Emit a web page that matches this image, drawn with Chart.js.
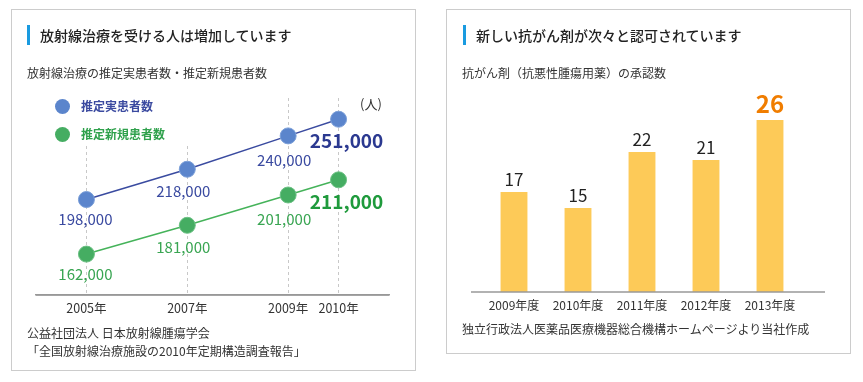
<!DOCTYPE html>
<html lang="ja">
<head>
<meta charset="utf-8">
<script src="https://cdn.jsdelivr.net/npm/chart.js@4"></script>
<style>
  body { margin: 0; width: 863px; height: 382px; position: relative; background: #fff;
         font-family: "Noto Sans CJK JP", "Noto Sans", sans-serif; color: #333; overflow: hidden; }
  .panel { position: absolute; border: 1px solid #cccccc; box-sizing: border-box; }
  .title { position: absolute; font-size: 14px; font-weight: 500; line-height: 20px; color: #222; white-space: nowrap; }
  .title::before { content: ""; position: absolute; left: -13px; top: 0; width: 3px; height: 20px; background: #1a9be0; }
  .sub, .note { position: absolute; font-size: 12px; line-height: 16px; white-space: nowrap; color: #333; }
  canvas { position: absolute; top: 0; }
  .legend { position: absolute; left: 55px; top: 95px; width: 140px; height: 50px; background: #fff; }
  .legend div { position: absolute; left: 0; font-size: 12px; font-weight: bold; line-height: 16px; white-space: nowrap; }
  .legend span { display: inline-block; width: 15px; height: 15px; border-radius: 50%; vertical-align: -3px; margin-right: 11px; }
  .unit { position: absolute; left: 360px; top: 94px; font-size: 13px; }
</style>
</head>
<body>
<div class="panel" style="left:11px;top:9px;width:405px;height:362px"></div>
<div class="panel" style="left:446px;top:9px;width:405px;height:345px"></div>

<div style="position:absolute;left:0;top:0;width:430px;height:382px">
  <canvas id="lineChart"></canvas>
</div>
<div style="position:absolute;left:440px;top:0;width:423px;height:382px">
  <canvas id="barChart"></canvas>
</div>

<div class="title" style="left:40px;top:25px">放射線治療を受ける人は増加しています</div>
<div class="sub" style="left:27px;top:65px">放射線治療の推定実患者数・推定新規患者数</div>
<div class="legend">
  <div style="top:3px;color:#3b4aa0"><span style="background:#5b85cc"></span>推定実患者数</div>
  <div style="top:31px;color:#2fa14c"><span style="background:#45ad62"></span>推定新規患者数</div>
</div>
<div class="unit">(人)</div>
<div class="note" style="left:27px;top:325px">公益社団法人 日本放射線腫瘍学会</div>
<div class="note" style="left:27px;top:343px">「全国放射線治療施設の2010年定期構造調査報告」</div>

<div class="title" style="left:476px;top:25px">新しい抗がん剤が次々と認可されています</div>
<div class="sub" style="left:462px;top:65px">抗がん剤（抗悪性腫瘍用薬）の承認数</div>
<div class="note" style="left:462px;top:321px">独立行政法人医薬品医療機器総合機構ホームページより当社作成</div>

<script>
// left chart data
const years = [2005, 2007, 2009, 2010];
const actualPatients = [198000, 218000, 240000, 251000];
const newPatients = [162000, 181000, 201000, 211000];

// right chart data
const fiscalYears = ['2009年度', '2010年度', '2011年度', '2012年度', '2013年度'];
const approvals = [17, 15, 22, 21, 26];

Chart.defaults.font.family = '"Noto Sans CJK JP", "Noto Sans", sans-serif';
Chart.defaults.color = '#333';

const pointLabels = {
    id: 'pointLabels',
    afterDatasetsDraw(chart) {
        const ctx = chart.ctx;
        chart.data.datasets.forEach((ds, i) => {
            const meta = chart.getDatasetMeta(i);
            meta.data.forEach((pt, j) => {
                const last = j === meta.data.length - 1;
                ctx.save();
                ctx.fillStyle = last ? ds.bigColor : ds.labelColor;
                ctx.font = (last ? 'bold 19px ' : '15px ') + Chart.defaults.font.family;
                ctx.textAlign = 'center';
                ctx.textBaseline = 'middle';
                const dx = last ? 8 : (j === 0 ? -1 : -4);
                const dy = last ? 22 : 20 + j * 2;
                ctx.fillText(ds.data[j].y.toLocaleString('en-US'), pt.x + dx, pt.y + dy);
                ctx.restore();
            });
        });
    }
};

new Chart(document.getElementById('lineChart'), {
    type: 'line',
    data: {
        datasets: [{
            data: years.map((y, i) => ({ x: y, y: actualPatients[i] })),
            borderColor: '#3a4ba0',
            borderWidth: 1.5,
            pointRadius: 8,
            pointBackgroundColor: '#5b85cc',
            pointBorderColor: '#7b9fd8',
            pointBorderWidth: 1,
            labelColor: '#3a4aa0',
            bigColor: '#2b3990'
        }, {
            data: years.map((y, i) => ({ x: y, y: newPatients[i] })),
            borderColor: '#45b35a',
            borderWidth: 1.5,
            pointRadius: 8,
            pointBackgroundColor: '#45ad62',
            pointBorderColor: '#6cc084',
            pointBorderWidth: 1,
            labelColor: '#39a552',
            bigColor: '#1f9a3c'
        }]
    },
    options: {
        responsive: true,
        maintainAspectRatio: false,
        animation: false,
        layout: { padding: { left: 36, right: 41, top: 98, bottom: 47 } },
        plugins: { legend: { display: false }, tooltip: { enabled: false } },
        scales: {
            x: {
                type: 'linear',
                min: 2004,
                max: 2011,
                afterBuildTicks: (scale) => { scale.ticks = years.map(v => ({ value: v })); },
                afterFit: (scale) => { scale.height = 40; },
                ticks: { callback: (v) => v + '年', font: { size: 12.5 }, color: '#333', padding: 6 },
                grid: { color: '#c8c8c8', drawTicks: false },
                border: { display: true, color: '#999', width: 1.5, dash: [3, 3] }
            },
            y: {
                display: false,
                min: 135000,
                max: 265000
            }
        }
    },
    plugins: [pointLabels, {
        id: 'baseLine',
        afterDraw(chart) {
            const ctx = chart.ctx, a = chart.chartArea;
            ctx.save();
            ctx.strokeStyle = '#999';
            ctx.lineWidth = 1.5;
            ctx.beginPath();
            ctx.moveTo(a.left, a.bottom);
            ctx.lineTo(a.right, a.bottom);
            ctx.stroke();
            ctx.restore();
        }
    }]
});

new Chart(document.getElementById('barChart'), {
    type: 'bar',
    data: {
        labels: fiscalYears,
        datasets: [{
            data: approvals,
            backgroundColor: '#fdca58',
            barPercentage: 0.84,
            categoryPercentage: 0.5
        }]
    },
    options: {
        responsive: true,
        maintainAspectRatio: false,
        animation: false,
        layout: { padding: { left: 42, right: 61, top: 100, bottom: 50 } },
        plugins: { legend: { display: false }, tooltip: { enabled: false } },
        scales: {
            x: {
                afterFit: (scale) => { scale.height = 40; },
                ticks: { font: { size: 12 }, color: '#333', padding: 6 },
                grid: { display: false, drawTicks: false },
                border: { display: false }
            },
            y: {
                display: false,
                min: 4.5,
                max: 28.5
            }
        }
    },
    plugins: [{
        id: 'barLabels',
        afterDatasetsDraw(chart) {
            const ctx = chart.ctx, a = chart.chartArea;
            ctx.save();
            ctx.strokeStyle = '#999';
            ctx.lineWidth = 1.5;
            ctx.beginPath();
            ctx.moveTo(a.left - 11, a.bottom);
            ctx.lineTo(a.right + 23, a.bottom);
            ctx.stroke();
            const meta = chart.getDatasetMeta(0);
            meta.data.forEach((bar, j) => {
                const last = j === meta.data.length - 1;
                ctx.fillStyle = last ? '#f07d00' : '#222';
                ctx.font = (last ? 'bold 24px ' : '17px ') + Chart.defaults.font.family;
                ctx.textAlign = 'center';
                ctx.textBaseline = 'middle';
                ctx.fillText(String(approvals[j]), bar.x, bar.y - (last ? 16 : 12));
            });
            ctx.restore();
        }
    }]
});
</script>
</body>
</html>
